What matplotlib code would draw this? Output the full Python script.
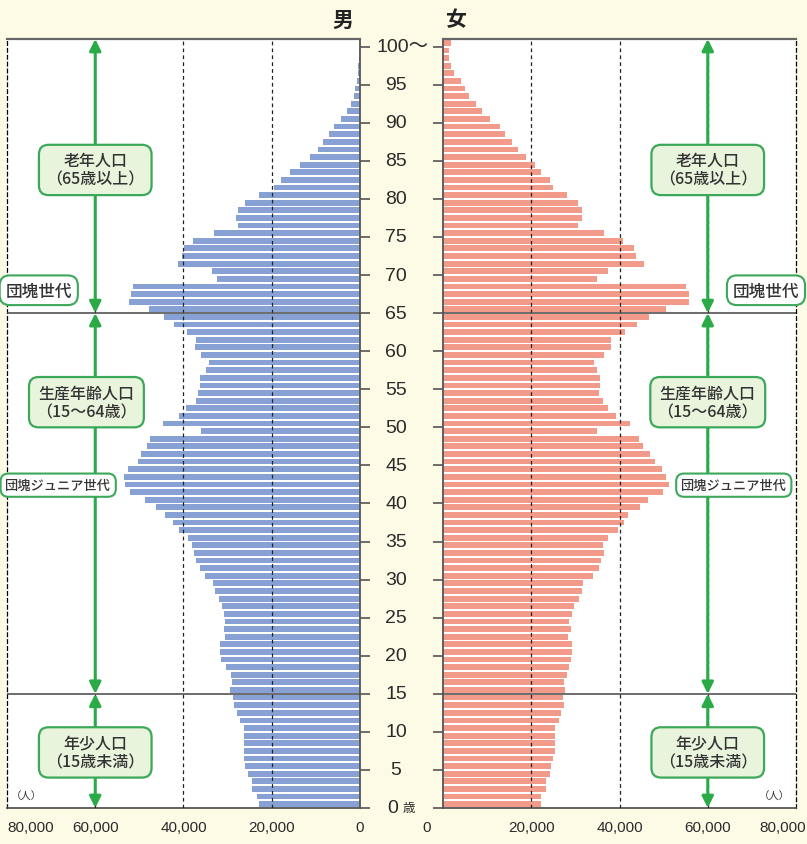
import matplotlib
matplotlib.use("Agg")
import matplotlib.pyplot as plt
import matplotlib.transforms as mtransforms
import numpy as np

plt.rcParams['font.family'] = ['Noto Sans CJK JP', 'DejaVu Sans']

# ages 0 .. 100 (100 = 100歳以上), values in persons
ages = np.arange(0, 101)

male = [
    22800, 23300, 24400, 24400, 25300, 26000, 26200, 26400, 26200, 26200,
    26400, 27300, 27800, 28500, 28700, 29400, 28900, 29200, 30300, 31400,
    31700, 31700, 30500, 30800, 30500, 30800, 31200, 31900, 32800, 33300,
    35100, 36200, 37100, 37600, 38000, 38900, 41000, 42300, 44200, 46200,
    48700, 52100, 53300, 53500, 52600, 50300, 49600, 48300, 47600, 36000,
    44600, 41000, 39400, 37100, 36700, 36200, 36200, 34800, 34200, 36000,
    37300, 37100, 39200, 42100, 44400, 47800, 52300, 51900, 51400, 32300,
    33500, 41200, 40300, 39900, 37800, 33000, 27600, 28000, 27600, 26000,
    23000, 19600, 17800, 15800, 13500, 11400, 9600, 8300, 7100, 5800,
    4200, 3000, 2100, 1400, 1200, 700, 500, 400, 200, 150,
    100,
]

female = [
    22200, 22200, 23400, 23400, 24300, 24500, 25000, 25400, 25400, 25400,
    25400, 26400, 26800, 27500, 27300, 27700, 27500, 28000, 28600, 28900,
    29300, 29300, 28400, 28900, 28600, 29300, 29800, 30900, 31600, 31800,
    34100, 35300, 35700, 36400, 36200, 37500, 39600, 41000, 41900, 44600,
    46500, 49900, 51300, 50600, 49700, 48100, 46900, 45300, 44400, 34800,
    42300, 39100, 37500, 36200, 35300, 35500, 35500, 34800, 34300, 36600,
    38000, 38000, 41200, 43900, 46700, 50600, 55800, 55800, 55100, 35000,
    37300, 45500, 43700, 43300, 40700, 36600, 30700, 31600, 31400, 30700,
    28200, 25000, 24300, 22200, 20900, 18800, 17000, 15600, 14000, 12900,
    10600, 8800, 7400, 5800, 4900, 4000, 2600, 1900, 1450, 1300,
    1900,
]

age_ticks = list(range(0, 101, 5))
x_ticks = [0, 20000, 40000, 60000, 80000]
x_labels = ["0", "20,000", "40,000", "60,000", "80,000"]

group_bounds = [15, 65]
groups = [
    (0, 15, "年少人口\n（15歳未満）", 7.3),
    (15, 65, "生産年齢人口\n（15～64歳）", 53.3),
    (65, 101, "老年人口\n（65歳以上）", 83.8),
]

bg = "#fdfbe6"
blue = "#88a1d5"
pink = "#f29b8a"
green = "#2aab47"
box_face = "#e9f4dc"
box_edge = "#3ca85a"
spine_col = "#555555"
txt_col = "#2a2a2a"

fig = plt.figure(figsize=(8.07, 8.45), dpi=100, facecolor=bg)
axL = fig.add_axes([7 / 807, 36 / 845, 353 / 807, 769 / 845])
axR = fig.add_axes([443 / 807, 36 / 845, 353 / 807, 769 / 845])

for ax, vals, col in [(axL, male, blue), (axR, female, pink)]:
    ax.set_facecolor("white")
    ax.barh(ages + 0.5, vals, height=0.76, color=col, zorder=2)
    ax.set_ylim(0, 101)
    ax.set_xticks([])
    ax.set_yticks(age_ticks)
    ax.tick_params(axis="y", length=7, width=1.2, color=spine_col, labelleft=False, labelright=False)
    # dashed grid on top of bars
    for gx in [20000, 40000, 60000]:
        ax.axvline(gx, color="#222222", lw=0.9, ls=(0, (3, 2.5)), zorder=3)
    for b in group_bounds:
        ax.axhline(b, color="#444444", lw=1.1, zorder=4)
    ax.spines["top"].set_color("#666666")
    ax.spines["top"].set_linewidth(1.6)
    ax.spines["bottom"].set_color(spine_col)
    ax.spines["bottom"].set_linewidth(1.3)

axL.set_xlim(80000, 0)
axR.set_xlim(0, 80000)

axL.spines["right"].set_color(spine_col)
axL.spines["right"].set_linewidth(1.3)
axL.spines["left"].set_linestyle((0, (3, 2.5)))
axL.spines["left"].set_linewidth(0.9)
axL.yaxis.tick_right()
axL.tick_params(axis="y", direction="out")

axR.spines["left"].set_color(spine_col)
axR.spines["left"].set_linewidth(1.3)
axR.spines["right"].set_linestyle((0, (3, 2.5)))
axR.spines["right"].set_linewidth(0.9)
axR.yaxis.tick_left()
axR.tick_params(axis="y", direction="out")

# age labels between the two panels
trans = mtransforms.blended_transform_factory(fig.transFigure, axL.transData)
for a in age_ticks:
    if a == 100:
        fig.text(377 / 807, a, "100～", transform=trans, ha="left", va="center",
                 fontsize=14, family=["Liberation Sans", "Noto Sans CJK JP"], color=txt_col)
    elif a == 0:
        fig.text(393 / 807, a, "0", transform=trans, ha="center", va="center",
                 fontsize=14, family="Liberation Sans", color=txt_col)
        fig.text(403 / 807, a, "歳", transform=trans, ha="left", va="center",
                 fontsize=9, color=txt_col)
    else:
        fig.text(396 / 807, a, str(a), transform=trans, ha="center", va="center",
                 fontsize=14, family="Liberation Sans", color=txt_col)

# x tick labels
for ax, side in [(axL, "L"), (axR, "R")]:
    tr = mtransforms.blended_transform_factory(ax.transData, ax.transAxes)
    for v, lab in zip(x_ticks, x_labels):
        ha = "center"
        xv = v
        if side == "L" and v == 80000:
            ha = "left"
        if side == "R" and v == 80000:
            xv = 77000
        if side == "R" and v == 0:
            xv = -3700
        ax.text(xv, -0.025, lab, transform=tr, ha=ha, va="center", fontsize=11,
                family="Liberation Sans", color=txt_col, clip_on=False)

axL.text(0.055, 0.016, "（人）", transform=axL.transAxes, ha="center", va="center",
         fontsize=7.5, color="#333333", zorder=6)
axR.text(0.94, 0.016, "（人）", transform=axR.transAxes, ha="center", va="center",
         fontsize=7.5, color="#333333", zorder=6)

# group arrows and boxes
for ax, box_x in [(axL, [60000, 62000, 60000]), (axR, [60000, 60000, 60000])]:
    for (lo, hi, label, ymid), bx in zip(groups, box_x):
        ax.annotate("", xy=(60000, hi), xytext=(60000, lo),
                    arrowprops=dict(arrowstyle="<|-|>", color=green, lw=2.2,
                                    mutation_scale=17, shrinkA=0, shrinkB=0),
                    zorder=5)
        ax.text(bx, ymid, label, ha="center", va="center", fontsize=11.5,
                fontweight="medium", color="#333333", linespacing=1.15, zorder=7,
                bbox=dict(boxstyle="round,pad=0.45,rounding_size=0.6",
                          fc=box_face, ec=box_edge, lw=1.6))

small_box = dict(boxstyle="round,pad=0.35,rounding_size=0.6", fc="white", ec=box_edge, lw=1.5)
axL.text(72800, 68.0, "団塊世代", ha="center", va="center", fontsize=12,
         fontweight="medium", color="#333333", zorder=7, bbox=small_box, clip_on=False)
axR.text(73200, 68.0, "団塊世代", ha="center", va="center", fontsize=12,
         fontweight="medium", color="#333333", zorder=7, bbox=small_box, clip_on=False)
axL.text(68400, 42.4, "団塊ジュニア世代", ha="center", va="center", fontsize=9.5,
         fontweight="medium", color="#333333", zorder=7, bbox=small_box, clip_on=False)
axR.text(65900, 42.4, "団塊ジュニア世代", ha="center", va="center", fontsize=9.5,
         fontweight="medium", color="#333333", zorder=7, bbox=small_box, clip_on=False)

fig.text(343 / 807, 1 - 20 / 845, "男", ha="center", va="center", fontsize=15,
         fontweight="bold", color="#222222")
fig.text(455 / 807, 1 - 20 / 845, "女", ha="center", va="center", fontsize=15,
         fontweight="bold", color="#222222")

fig.savefig("out.png", dpi=100, facecolor=bg)
